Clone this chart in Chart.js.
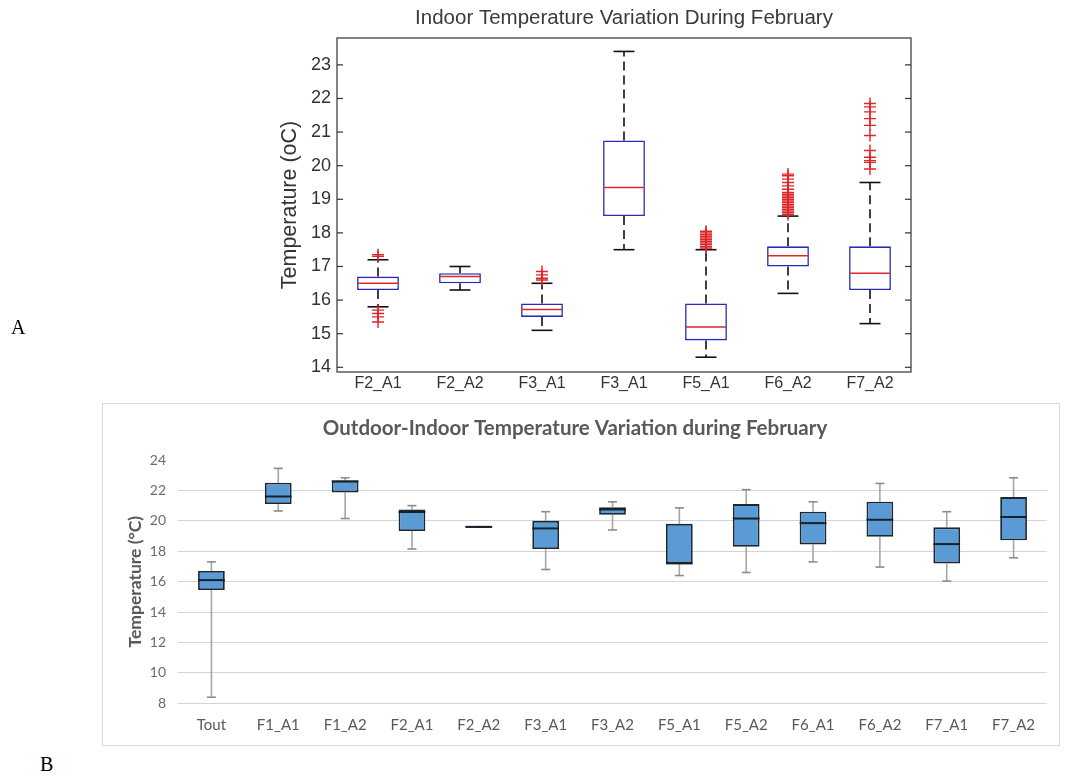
<!DOCTYPE html>
<html><head><meta charset="utf-8">
<script src="https://cdn.jsdelivr.net/npm/chart.js@4.4.0/dist/chart.umd.min.js"></script>
<style>
body{margin:0;background:#fff;width:1066px;height:778px;position:relative;overflow:hidden}
#wa{position:absolute;left:0;top:0;width:1066px;height:400px}
#wb{position:absolute;left:102px;top:403px;width:956px;height:341px;border:1px solid #d9d9d9}
.lab{position:absolute;font-family:"Liberation Serif",serif;font-size:20px;color:#000}
</style></head><body>
<div id="wa"><canvas id="ca" width="1066" height="400"></canvas></div>
<div id="wb"><canvas id="cb" width="956" height="341"></canvas></div>
<div class="lab" style="left:11px;top:316px">A</div>
<div class="lab" style="left:40px;top:753px">B</div>
<script>
// ---------- Chart A data ----------
const catsA = ['F2_A1','F2_A2','F3_A1','F3_A1','F5_A1','F6_A2','F7_A2'];
const loA  = [15.8, 16.3, 15.1, 17.5, 14.3, 16.2, 15.3];
const q1A  = [16.3, 16.5, 15.5, 18.5, 14.8, 17.0, 16.3];
const medA = [16.5, 16.7, 15.72, 19.35, 15.2, 17.32, 16.8];
const q3A  = [16.7, 16.8, 15.9, 20.75, 15.9, 17.6, 17.6];
const hiA  = [17.2, 17.0, 16.5, 23.4, 17.5, 18.5, 19.5];
const outF2A1 = [17.3, 17.35, 15.7, 15.6, 15.5, 15.35];
const outF2A2 = [];
const outF3A1 = [16.6, 16.65, 16.75, 16.85];
const outF3A1b = [];
const outF5A1 = [17.55, 17.6, 17.65, 17.7, 17.75, 17.8, 17.85, 17.9, 17.95, 18.0, 18.05];
const outF6A2 = [18.55, 18.6, 18.65, 18.7, 18.75, 18.8, 18.85, 18.9, 18.95, 19.0, 19.05, 19.1, 19.15, 19.2, 19.3, 19.4, 19.5, 19.6, 19.7, 19.75];
const outF7A2 = [19.9, 20.1, 20.15, 20.25, 20.45, 20.9, 21.2, 21.4, 21.6, 21.75, 21.85];
const yTicksA = [14, 15, 16, 17, 18, 19, 20, 21, 22, 23];

// ---------- Chart B data ----------
const catsB = ['Tout','F1_A1','F1_A2','F2_A1','F2_A2','F3_A1','F3_A2','F5_A1','F5_A2','F6_A1','F6_A2','F7_A1','F7_A2'];
const loB  = [8.4, 20.65, 20.15, 18.15, 19.6, 16.8, 19.4, 16.4, 16.6, 17.3, 16.96, 16.04, 17.57];
const q1B  = [15.45, 21.1, 21.87, 19.33, 19.55, 18.15, 20.4, 17.2, 18.3, 18.45, 18.95, 17.2, 18.72];
const medB = [16.1, 21.6, 22.6, 20.58, 19.6, 19.5, 20.75, 17.2, 20.15, 19.85, 20.07, 18.47, 20.25];
const q3B  = [16.7, 22.5, 22.63, 20.75, 19.67, 20.0, 20.9, 19.8, 21.1, 20.6, 21.26, 19.57, 21.56];
const hiB  = [17.3, 23.45, 22.83, 21.0, 19.6, 20.6, 21.25, 20.85, 22.05, 21.25, 22.46, 20.6, 22.83];
const yTicksB = [8, 10, 12, 14, 16, 18, 20, 22, 24];

const outA = [outF2A1, outF2A2, outF3A1, outF3A1b, outF5A1, outF6A2, outF7A2];
const outPts = [];
outA.forEach((arr, i) => arr.forEach(v => outPts.push({x: i, y: v})));

function seg(ctx, x1, y1, x2, y2) { ctx.beginPath(); ctx.moveTo(x1, y1); ctx.lineTo(x2, y2); ctx.stroke(); }

const pluginA = {
  id: 'boxA',
  beforeDatasetsDraw(chart) {
    const ctx = chart.ctx, y = chart.scales.y, meta = chart.getDatasetMeta(0);
    ctx.save();
    ctx.strokeStyle = '#111'; ctx.lineWidth = 1.6;
    meta.data.forEach((bar, i) => {
      const x = bar.x, w = bar.width;
      ctx.setLineDash([9, 5]);
      seg(ctx, x, y.getPixelForValue(q3A[i]), x, y.getPixelForValue(hiA[i]));
      seg(ctx, x, y.getPixelForValue(q1A[i]), x, y.getPixelForValue(loA[i]));
      ctx.setLineDash([]);
      const yh = y.getPixelForValue(hiA[i]), yl = y.getPixelForValue(loA[i]);
      seg(ctx, x - w / 4, yh, x + w / 4, yh);
      seg(ctx, x - w / 4, yl, x + w / 4, yl);
    });
    ctx.restore();
  },
  afterDatasetsDraw(chart) {
    const ctx = chart.ctx, y = chart.scales.y, meta = chart.getDatasetMeta(0);
    ctx.save();
    ctx.strokeStyle = '#e0262a'; ctx.lineWidth = 1.5;
    meta.data.forEach((bar, i) => {
      const ym = y.getPixelForValue(medA[i]);
      seg(ctx, bar.x - bar.width / 2 + 1, ym, bar.x + bar.width / 2 - 1, ym);
    });
    ctx.restore();
  },
  afterDraw(chart) {
    const ctx = chart.ctx, a = chart.chartArea, y = chart.scales.y;
    ctx.save();
    ctx.strokeStyle = '#333'; ctx.lineWidth = 1.2;
    ctx.strokeRect(a.left, a.top, a.right - a.left, a.bottom - a.top);
    y.ticks.forEach(t => {
      const py = y.getPixelForValue(t.value);
      seg(ctx, a.left, py, a.left + 6, py);
      seg(ctx, a.right - 6, py, a.right, py);
    });
    ctx.restore();
  }
};

new Chart(document.getElementById('ca'), {
  type: 'bar',
  data: {
    labels: catsA,
    datasets: [
      { label: 'box', data: catsA.map((c, i) => [q1A[i], q3A[i]]), backgroundColor: '#ffffff',
        borderColor: '#2a2ab8', borderWidth: 1.6, borderSkipped: false, barPercentage: 0.51, categoryPercentage: 1, order: 2 },
      { type: 'line', label: 'outliers', data: outPts, parsing: false, showLine: false, pointStyle: 'cross',
        pointRadius: 6, pointBorderColor: '#e0262a', pointBorderWidth: 1.4, borderColor: '#e0262a', order: 1 }
    ]
  },
  options: {
    responsive: false, animation: false, devicePixelRatio: 1,
    layout: { padding: { left: 250, right: 68, top: 0, bottom: 0 } },
    plugins: {
      legend: { display: false }, tooltip: { enabled: false },
      title: { display: true, text: 'Indoor Temperature Variation During February', color: '#3a3a3a',
        font: { family: '"Liberation Sans", Arial, sans-serif', size: 20.5, weight: 'normal' }, padding: { top: 6, bottom: 7.4 } }
    },
    scales: {
      x: { grid: { display: false, drawTicks: false }, border: { display: false },
        ticks: { color: '#333', padding: 2, font: { family: '"Liberation Sans", Arial, sans-serif', size: 16 } },
        afterFit(s) { s.height = 28; } },
      y: { min: 13.86, max: 23.8, grid: { display: false, drawTicks: false }, border: { display: false },
        afterBuildTicks(s) { s.ticks = yTicksA.map(v => ({ value: v })); },
        ticks: { color: '#333', padding: 6, font: { family: '"Liberation Sans", Arial, sans-serif', size: 18 } },
        title: { display: true, text: 'Temperature (oC)', color: '#333', padding: { top: 27, bottom: 0 },
          font: { family: '"Liberation Sans", Arial, sans-serif', size: 21.5 } },
        afterFit(s) { s.width = 87; } },
      yr: { position: 'right', grid: { display: false, drawTicks: false }, border: { display: false },
        ticks: { display: false }, afterFit(s) { s.width = 87; } }
    }
  },
  plugins: [pluginA]
});

const pluginB = {
  id: 'boxB',
  beforeDatasetsDraw(chart) {
    const ctx = chart.ctx, y = chart.scales.y, meta = chart.getDatasetMeta(0);
    ctx.save();
    ctx.lineWidth = 1.6;
    meta.data.forEach((bar, i) => {
      const x = bar.x;
      const yh = y.getPixelForValue(hiB[i]), yl = y.getPixelForValue(loB[i]);
      ctx.strokeStyle = '#a6a6a6';
      seg(ctx, x, y.getPixelForValue(q3B[i]), x, yh);
      seg(ctx, x, y.getPixelForValue(q1B[i]), x, yl);
      ctx.strokeStyle = '#8c8c8c';
      seg(ctx, x - 4.5, yh, x + 4.5, yh);
      seg(ctx, x - 4.5, yl, x + 4.5, yl);
    });
    ctx.restore();
  },
  afterDatasetsDraw(chart) {
    const ctx = chart.ctx, y = chart.scales.y, meta = chart.getDatasetMeta(0);
    ctx.save();
    ctx.strokeStyle = '#17212b'; ctx.lineWidth = 2;
    meta.data.forEach((bar, i) => {
      const ym = y.getPixelForValue(medB[i]);
      seg(ctx, bar.x - bar.width / 2, ym, bar.x + bar.width / 2, ym);
    });
    ctx.restore();
  }
};

new Chart(document.getElementById('cb'), {
  type: 'bar',
  data: {
    labels: catsB,
    datasets: [
      { label: 'box', data: catsB.map((c, i) => [q1B[i], q3B[i]]), backgroundColor: '#5b9bd5',
        borderColor: '#1c2733', borderWidth: 1.8, borderSkipped: false, barPercentage: 0.4, categoryPercentage: 1 }
    ]
  },
  options: {
    responsive: false, animation: false, devicePixelRatio: 1,
    layout: { padding: { left: 0, right: 12, top: 0, bottom: 0 } },
    plugins: {
      legend: { display: false }, tooltip: { enabled: false },
      title: { display: true, text: 'Outdoor-Indoor Temperature Variation during February', color: '#595959',
        font: { family: 'Lato, "Open Sans", sans-serif', size: 20.5, weight: 'bold' }, padding: { top: 11.7, bottom: 19.7 } }
    },
    scales: {
      x: { grid: { display: false, drawTicks: false }, border: { display: false },
        ticks: { color: '#595959', padding: 13, font: { family: 'Lato, "Open Sans", sans-serif', size: 15 } },
        afterFit(s) { s.height = 41.7; } },
      y: { min: 8, max: 24, border: { display: false },
        grid: { drawTicks: false, lineWidth: 1, color: (c) => c.tick && c.tick.value === 24 ? 'rgba(0,0,0,0)' : '#d4d4d4' },
        afterBuildTicks(s) { s.ticks = yTicksB.map(v => ({ value: v })); },
        ticks: { color: '#6b6b6b', padding: 12, font: { family: 'Lato, "Open Sans", sans-serif', size: 14 } },
        title: { display: true, text: 'Temperature (°C)', color: '#595959', padding: { top: 22, bottom: 0 },
          font: { family: 'Lato, "Open Sans", sans-serif', size: 17.5, weight: 'bold' } },
        afterFit(s) { s.width = 75; } }
    }
  },
  plugins: [pluginB]
});
</script>
</body></html>
